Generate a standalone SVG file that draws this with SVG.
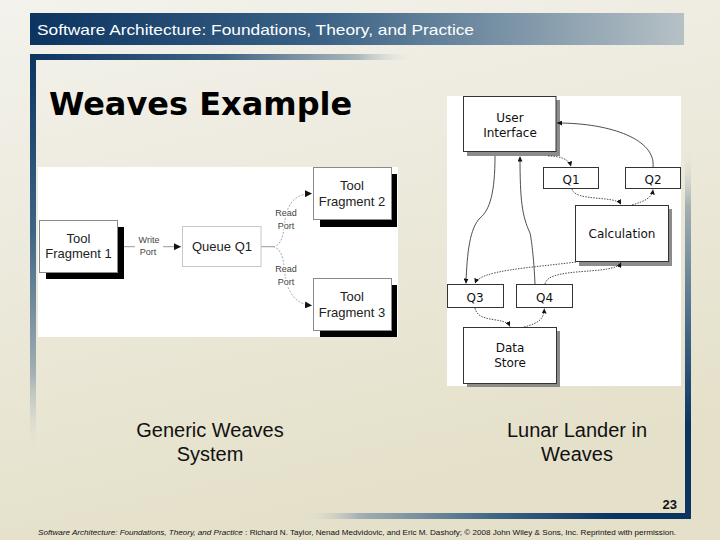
<svg xmlns="http://www.w3.org/2000/svg" width="720" height="540" viewBox="0 0 720 540">
<defs>
<linearGradient id="bg" x1="0" y1="0" x2="0.3" y2="1">
<stop offset="0" stop-color="#f3f2ec"/><stop offset="1" stop-color="#e4e0c9"/>
</linearGradient>
<linearGradient id="hdr" x1="0" y1="0" x2="1" y2="0">
<stop offset="0" stop-color="#0b3461"/><stop offset="0.45" stop-color="#3c6386"/><stop offset="1" stop-color="#b6c1c5"/>
</linearGradient>
<linearGradient id="topbar" x1="0" y1="0" x2="1" y2="0">
<stop offset="0" stop-color="#0b3461"/><stop offset="0.5" stop-color="#3f6585"/><stop offset="0.85" stop-color="#aab6bb"/><stop offset="1" stop-color="#e8e6dc" stop-opacity="0"/>
</linearGradient>
<linearGradient id="leftbar" x1="0" y1="0" x2="0" y2="1">
<stop offset="0" stop-color="#0b3461"/><stop offset="0.45" stop-color="#3f6585"/><stop offset="0.8" stop-color="#a4b0b4"/><stop offset="1" stop-color="#e6e3d3" stop-opacity="0"/>
</linearGradient>
<linearGradient id="rightbar" x1="0" y1="0" x2="0" y2="1">
<stop offset="0" stop-color="#e6e3d3" stop-opacity="0"/><stop offset="0.15" stop-color="#a4b0b4"/><stop offset="0.5" stop-color="#3f6585"/><stop offset="0.75" stop-color="#0b3461"/><stop offset="1" stop-color="#0b3461"/>
</linearGradient>
<linearGradient id="botbar" x1="0" y1="0" x2="1" y2="0">
<stop offset="0" stop-color="#e6e3d3" stop-opacity="0"/><stop offset="0.15" stop-color="#a4b0b4"/><stop offset="0.5" stop-color="#3f6585"/><stop offset="0.8" stop-color="#0b3461"/><stop offset="1" stop-color="#0b3461"/>
</linearGradient>
<marker id="ah" viewBox="0 0 10 10" refX="10" refY="5" markerWidth="7" markerHeight="7" orient="auto" markerUnits="userSpaceOnUse">
<path d="M0,0 L10,5 L0,10 z" fill="#111"/>
</marker>
<marker id="ahs" viewBox="0 0 10 10" refX="10" refY="5" markerWidth="5" markerHeight="5" orient="auto" markerUnits="userSpaceOnUse">
<path d="M0,0 L10,5 L0,10 z" fill="#111"/>
</marker>
</defs>
<style>
.tf{fill:#fff;stroke:#8a8a8a;stroke-width:1}
.shb{fill:#000}
.shg{fill:#8c8c8c}
.rb{fill:#fff;stroke:#333;stroke-width:1}
.t1{font-family:"Liberation Sans",Arial,sans-serif;font-size:13px;fill:#222;text-anchor:middle}
.lbl{font-family:"Liberation Sans",Arial,sans-serif;font-size:9px;fill:#444;text-anchor:middle;stroke:#fff;stroke-width:3px;paint-order:stroke}
.t2{font-family:"DejaVu Sans",Verdana,sans-serif;font-size:12px;fill:#111;text-anchor:middle}
.c{fill:none;stroke:#999;stroke-width:1}
.cd{fill:none;stroke:#aaa;stroke-width:1;stroke-dasharray:2 1.5}
.r{fill:none;stroke:#222;stroke-width:0.8}
.rd{fill:none;stroke:#222;stroke-width:0.8;stroke-dasharray:1.5 1.2}
.cap{font-family:"Liberation Sans",Arial,sans-serif;font-size:20px;fill:#111;text-anchor:middle}
</style>
<rect x="0" y="0" width="720" height="540" fill="url(#bg)"/>
<!-- header -->
<rect x="30" y="13" width="654" height="32" fill="url(#hdr)"/>
<text x="37" y="35" font-family="Liberation Sans,Arial,sans-serif" font-size="15" fill="#fff" textLength="437" lengthAdjust="spacingAndGlyphs">Software Architecture: Foundations, Theory, and Practice</text>
<!-- frame -->
<rect x="30" y="54" width="385" height="6" fill="url(#topbar)"/>
<rect x="30" y="54" width="6" height="400" fill="url(#leftbar)"/>
<rect x="685" y="150" width="6" height="369" fill="url(#rightbar)"/>
<rect x="300" y="513" width="391" height="6" fill="url(#botbar)"/>
<text x="49" y="115" font-family="DejaVu Sans,Verdana,sans-serif" font-weight="bold" font-size="32" fill="#000">Weaves Example</text>

<!-- left diagram -->
<rect x="38" y="167" width="360" height="170" fill="#fff"/>
<g id="connectors-left">
<path class="c" d="M124,246.7 H135"/>
<path class="c" d="M163,246.7 H181" marker-end="url(#ah)"/>
<path class="c" d="M261,246.7 H273"/>
<path class="cd" d="M273,246.7 C280,246 283,238 284,228 C286,205 293,194 312,193.5" marker-end="url(#ah)"/>
<path class="cd" d="M273,246.7 C280,248 283,256 284,266 C286,290 293,304 312,305.5" marker-end="url(#ah)"/>
<text class="lbl" x="149" y="243">Write</text>
<text class="lbl" x="148" y="255">Port</text>
<text class="lbl" x="286" y="216">Read</text>
<text class="lbl" x="286" y="229">Port</text>
<text class="lbl" x="286" y="272">Read</text>
<text class="lbl" x="286" y="285">Port</text>
</g>
<g id="tool-fragment-1">
<rect class="shb" x="46" y="227" width="78" height="52"/>
<rect class="tf" x="39.5" y="220.5" width="78" height="52"/>
<text class="t1" x="78.5" y="243">Tool</text>
<text class="t1" x="78.5" y="258">Fragment 1</text>
</g>
<g id="queue-q1">
<rect x="182.5" y="226.5" width="78.5" height="40" fill="#fff" stroke="#c8c8c8" stroke-width="1"/>
<text class="t1" x="222" y="251">Queue Q1</text>
</g>
<g id="tool-fragment-2">
<rect class="shb" x="320" y="174" width="77" height="53"/>
<rect class="tf" x="313.5" y="167.5" width="78" height="52"/>
<text class="t1" x="352" y="190">Tool</text>
<text class="t1" x="352" y="206">Fragment 2</text>
</g>
<g id="tool-fragment-3">
<rect class="shb" x="320" y="285" width="77" height="52"/>
<rect class="tf" x="313.5" y="278.5" width="78" height="52"/>
<text class="t1" x="352" y="301">Tool</text>
<text class="t1" x="352" y="317">Fragment 3</text>
</g>

<!-- right diagram -->
<rect x="447" y="96" width="234" height="290" fill="#fff"/>
<g id="user-interface">
<rect class="shg" x="467" y="100" width="93" height="56"/>
<rect class="rb" x="463.5" y="96.5" width="92.5" height="55"/>
<text class="t2" x="510" y="122">User</text>
<text class="t2" x="510" y="137">Interface</text>
</g>
<g id="q1">
<rect class="rb" x="543.5" y="167.5" width="55" height="21"/>
<text class="t2" x="571" y="184">Q1</text>
</g>
<g id="q2">
<rect class="rb" x="625.5" y="167.5" width="55" height="21"/>
<text class="t2" x="653" y="184">Q2</text>
</g>
<g id="calculation">
<rect class="shg" x="579" y="209" width="93" height="57"/>
<rect class="rb" x="575.5" y="205.5" width="93" height="56"/>
<text class="t2" x="622" y="238">Calculation</text>
</g>
<g id="q3">
<rect class="rb" x="447.5" y="284.5" width="56" height="23"/>
<text class="t2" x="475" y="302">Q3</text>
</g>
<g id="q4">
<rect class="rb" x="516.5" y="284.5" width="56" height="23"/>
<text class="t2" x="544.5" y="302">Q4</text>
</g>
<g id="data-store">
<rect class="shg" x="467" y="331" width="93" height="56"/>
<rect class="rb" x="463.5" y="327.5" width="93" height="56"/>
<text class="t2" x="510" y="352">Data</text>
<text class="t2" x="510" y="367">Store</text>
</g>
<g id="connectors-right">
<path class="r" d="M495,156 C495,192 490,210 480,218 C470,228 467,252 466,283.5" marker-end="url(#ahs)"/>
<path class="r" d="M535,284 C534,262 532,242 530,233 C522,216 520,200 520,156.5" marker-end="url(#ahs)"/>
<path class="rd" d="M548,156 C560,156 569,159 571,166.5" marker-end="url(#ahs)"/>
<path class="r" d="M653,167 C656,140 612,123 557,123" marker-end="url(#ahs)"/>
<path class="rd" d="M572,189 C575,202 616,195 621,204.5" marker-end="url(#ahs)"/>
<path class="rd" d="M632,205 C645,201 652,198 653,189.5" marker-end="url(#ahs)"/>
<path class="rd" d="M576,262 C530,268 480,270 475,283.5" marker-end="url(#ahs)"/>
<path class="rd" d="M545,284 C548,266 615,276 621,262.5" marker-end="url(#ahs)"/>
<path class="rd" d="M475,308 C478,324 505,316 510,326.5" marker-end="url(#ahs)"/>
<path class="rd" d="M524,327 C540,323 544,318 544.3,308.5" marker-end="url(#ahs)"/>
</g>

<!-- captions -->
<text class="cap" x="210" y="437">Generic Weaves</text>
<text class="cap" x="210" y="461">System</text>
<text class="cap" x="577" y="437">Lunar Lander in</text>
<text class="cap" x="577" y="461">Weaves</text>
<text x="677" y="509" font-family="Liberation Sans,Arial,sans-serif" font-weight="bold" font-size="13" fill="#111" text-anchor="end">23</text>
<text x="38" y="535" font-family="Liberation Sans,Arial,sans-serif" font-size="7.5" fill="#111" textLength="638" lengthAdjust="spacingAndGlyphs"><tspan font-style="italic">Software Architecture: Foundations, Theory, and Practice</tspan> : Richard N. Taylor, Nenad Medvidovic, and Eric M. Dashofy; © 2008 John Wiley &amp; Sons, Inc. Reprinted with permission.</text>
</svg>
